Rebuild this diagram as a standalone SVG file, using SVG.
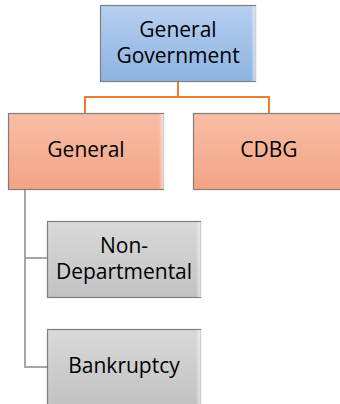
<svg xmlns="http://www.w3.org/2000/svg" width="340" height="404" viewBox="0 0 340 404">
  <defs>
    <linearGradient id="gBlue" x1="0" y1="0" x2="0" y2="1">
      <stop offset="0" stop-color="#b6cff0"/>
      <stop offset="1" stop-color="#8db3e2"/>
    </linearGradient>
    <linearGradient id="gOrange" x1="0" y1="0" x2="0" y2="1">
      <stop offset="0" stop-color="#f8bea6"/>
      <stop offset="1" stop-color="#f4a384"/>
    </linearGradient>
    <linearGradient id="gGray" x1="0" y1="0" x2="0" y2="1">
      <stop offset="0" stop-color="#d9d9d9"/>
      <stop offset="1" stop-color="#c2c2c2"/>
    </linearGradient>
    <linearGradient id="gEdge" x1="0" y1="0" x2="1" y2="0">
      <stop offset="0" stop-color="#ffffff" stop-opacity="0"/>
      <stop offset="1" stop-color="#ffffff" stop-opacity="0.7"/>
    </linearGradient>
  </defs>
  <style>
    .box { stroke: #7f7f7f; stroke-width: 1.2; }
    .edge { fill: url(#gEdge); }
    .lbl { font-family: "Open Sans", "Liberation Sans", sans-serif; font-size: 21px; fill: #000; text-anchor: middle; }
    .orange { fill: none; stroke: #ed7d31; stroke-width: 2; }
    .gray { fill: none; stroke: #a6a6a6; stroke-width: 2; }
  </style>

  <!-- connectors -->
  <g id="connectors">
    <path class="orange" d="M178 82 V97 M85 113 V97 H269 V113"/>
    <path class="gray" d="M25 190 V367 H47 M25 258 H47"/>
  </g>

  <!-- top level -->
  <g id="general-government">
    <rect class="box" x="100.5" y="5.5" width="155" height="76" fill="url(#gBlue)"/>
    <rect class="edge" x="251" y="6" width="5" height="75"/>
    <text class="lbl" x="178" y="37">General</text>
    <text class="lbl" x="178" y="63">Government</text>
  </g>

  <!-- second level -->
  <g id="general">
    <rect class="box" x="8.5" y="113.5" width="155" height="76" fill="url(#gOrange)"/>
    <rect class="edge" x="159" y="114" width="5" height="75"/>
    <text class="lbl" x="86" y="157">General</text>
  </g>
  <g id="cdbg">
    <rect class="box" x="193.5" y="113.5" width="155" height="76" fill="url(#gOrange)"/>
    <text class="lbl" x="269" y="157">CDBG</text>
  </g>

  <!-- children of General -->
  <g id="non-departmental">
    <rect class="box" x="47.5" y="221.5" width="153" height="76" fill="url(#gGray)"/>
    <rect class="edge" x="196" y="222" width="5" height="75"/>
    <text class="lbl" x="124" y="253">Non-</text>
    <text class="lbl" x="124" y="279">Departmental</text>
  </g>
  <g id="bankruptcy">
    <rect class="box" x="47.5" y="329.5" width="153" height="76" fill="url(#gGray)"/>
    <rect class="edge" x="196" y="330" width="5" height="75"/>
    <text class="lbl" x="124" y="373">Bankruptcy</text>
  </g>
</svg>
